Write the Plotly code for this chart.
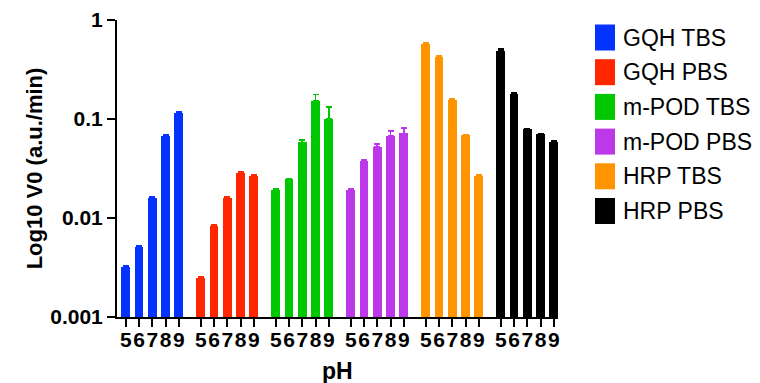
import plotly.graph_objects as go

series_names = ["GQH TBS", "GQH PBS", "m-POD TBS", "m-POD PBS", "HRP TBS", "HRP PBS"]
series_colors = ["#0433FF", "#FF2600", "#00C700", "#BD38E8", "#FF9300", "#000000"]
ph_labels = ["5", "6", "7", "8", "9"]

gqh_tbs = [0.0032, 0.0051, 0.0161, 0.0676, 0.1155]
gqh_pbs = [0.00248, 0.0083, 0.0161, 0.0288, 0.0265]
mpod_tbs = [0.0194, 0.0245, 0.058, 0.153, 0.1005]
mpod_pbs = [0.0194, 0.0375, 0.0524, 0.0671, 0.0715]
hrp_tbs = [0.576, 0.422, 0.156, 0.0682, 0.0265]
hrp_pbs = [0.486, 0.180, 0.079, 0.0699, 0.0588]

gqh_tbs_err = [0.0001, 0.00015, 0.0004, 0.0015, 0.003]
gqh_pbs_err = [0.00005, 0.0002, 0.0004, 0.0006, 0.0006]
mpod_tbs_err = [0.0004, 0.0006, 0.0032, 0.023, 0.032]
mpod_pbs_err = [0.0004, 0.0008, 0.0034, 0.0088, 0.0094]
hrp_tbs_err = [0.01, 0.008, 0.003, 0.0015, 0.0005]
hrp_pbs_err = [0.027, 0.004, 0.0015, 0.0015, 0.001]

values = [gqh_tbs, gqh_pbs, mpod_tbs, mpod_pbs, hrp_tbs, hrp_pbs]
errors = [gqh_tbs_err, gqh_pbs_err, mpod_tbs_err, mpod_pbs_err, hrp_tbs_err, hrp_pbs_err]

GROUP_STEP = 5.66
FONT = "Arial, Liberation Sans, Helvetica, sans-serif"

fig = go.Figure()
all_x, all_text = [], []
for g, (name, color, vals, errs) in enumerate(zip(series_names, series_colors, values, errors)):
    xs = [g * GROUP_STEP + i for i in range(len(vals))]
    all_x += xs
    all_text += ph_labels
    fig.add_trace(go.Bar(
        x=xs, y=vals, name=name, width=0.66,
        marker=dict(color=color, line=dict(width=0)),
        error_y=dict(type="data", symmetric=False, array=errs,
                     arrayminus=[0] * len(errs), color=color,
                     thickness=1.6, width=3),
        showlegend=False,
    ))

# custom legend (large swatches like the reference)
px_left, px_w, px_bottom, px_h = 117, 441, 317, 297
def px2paper_x(px):
    return (px - px_left) / px_w
def px2paper_y(py):
    return (px_bottom - py) / px_h

for i, (name, color) in enumerate(zip(series_names, series_colors)):
    cy = 37.5 + 34.7 * i
    fig.add_shape(type="rect", xref="paper", yref="paper",
                  x0=px2paper_x(595), x1=px2paper_x(615),
                  y0=px2paper_y(cy + 13), y1=px2paper_y(cy - 13),
                  fillcolor=color, line=dict(width=0))
    fig.add_annotation(xref="paper", yref="paper", x=px2paper_x(621), y=px2paper_y(cy),
                       text=name, showarrow=False, xanchor="left", yanchor="middle",
                       font=dict(family=FONT, size=23, color="black"))

# x-axis title
fig.add_annotation(xref="paper", yref="paper", x=0.5, y=px2paper_y(371),
                   text="<b>pH</b>", showarrow=False, xanchor="center", yanchor="middle",
                   font=dict(family=FONT, size=23, color="black"))

fig.update_layout(
    width=760, height=383,
    margin=dict(l=117, r=202, t=20, b=66),
    paper_bgcolor="white", plot_bgcolor="white",
    bargap=0,
    font=dict(family=FONT, color="black"),
)
fig.update_xaxes(
    range=[-0.66, 5 * GROUP_STEP + 4 + 0.32],
    tickmode="array", tickvals=all_x, ticktext=all_text, tickangle=0,
    ticks="outside", ticklen=8, tickwidth=2, tickcolor="black",
    ticklabelstandoff=-5,
    showline=True, linewidth=2, linecolor="black", showgrid=False, zeroline=False,
    tickfont=dict(family=FONT, size=21, color="black", weight="bold"),
    automargin=False,
)
fig.update_yaxes(
    type="log", range=[-3, 0],
    tickmode="array", tickvals=[0.001, 0.01, 0.1, 1], ticktext=["0.001", "0.01", "0.1", "1"],
    ticks="outside", ticklen=8, tickwidth=2, tickcolor="black",
    showline=True, linewidth=2, linecolor="black", showgrid=False, zeroline=False,
    tickfont=dict(family=FONT, size=21, color="black", weight="bold"),
    title=dict(text="Log10 V0 (a.u./min)", font=dict(family=FONT, size=22, color="black", weight="bold"), standoff=2),
    automargin=False,
)

fig.write_html("out.html", config={"displayModeBar": False},
               post_script="document.body.style.margin='0';")
